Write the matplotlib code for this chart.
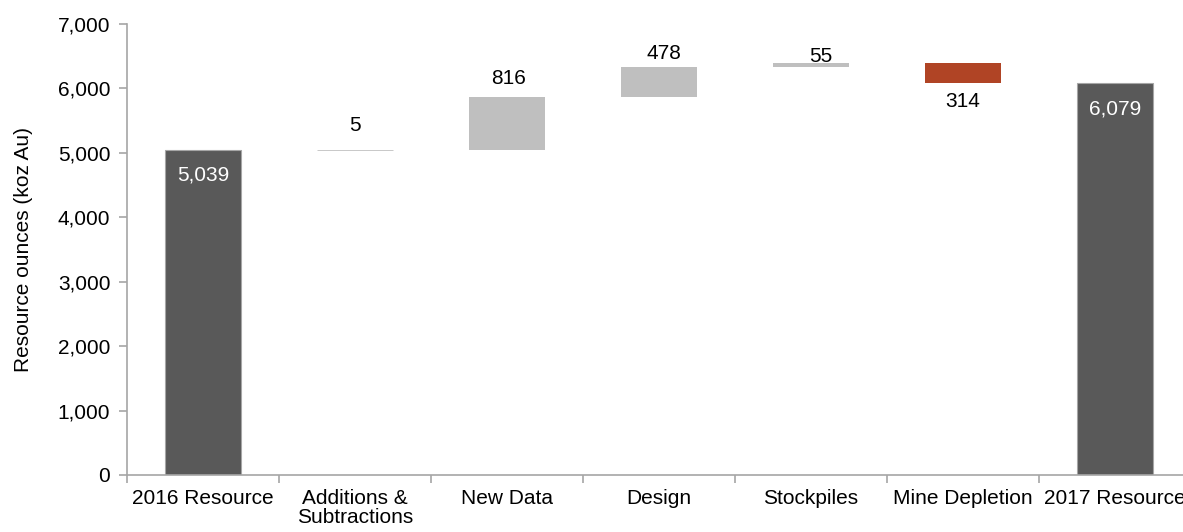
import numpy as np
import matplotlib.pyplot as plt

plt.rcParams['font.family'] = ['Liberation Sans', 'DejaVu Sans']

# datos del waterfall
categorias = ['2016 Resource', 'Additions &\nSubtractions', 'New Data', 'Design',
              'Stockpiles', 'Mine Depletion', '2017 Resource']
cambios = [5039, 5, 816, 478, 55, -314, 6079]
es_total = [True, False, False, False, False, False, True]

# desplazamiento de cada etiqueta en pixeles (x, y), como en el original
desfase_etiqueta = [(0, -25), (0, 25), (2, 19), (5, 13), (10, 7), (0, -18), (0, -26)]

c_total = '#595959'
c_sube = '#bfbfbf'
c_baja = '#b04425'

fig = plt.figure(figsize=(11.83, 5.32), dpi=100)
ax = fig.add_axes([127 / 1183, 57 / 532, 1064 / 1183, 451 / 532])

x = np.arange(len(categorias))
nivel = 0
for i, (v, tot) in enumerate(zip(cambios, es_total)):
    dx, dy = desfase_etiqueta[i]
    if tot:
        ax.bar(i, v, width=0.5, color=c_total, edgecolor='#a6a6a6', linewidth=0.8)
        ax.annotate(f'{v:,}', (i, v), xytext=(dx, dy), textcoords='offset pixels',
                    ha='center', va='center', color='white', fontsize=15)
        nivel = v
    else:
        base = nivel if v >= 0 else nivel + v
        col = c_sube if v >= 0 else c_baja
        ax.bar(i, abs(v), bottom=base, width=0.5, color=col, edgecolor=col,
               linewidth=0.6 if abs(v) < 20 else 0)
        if v >= 0:
            ax.annotate(f'{v:,}', (i, nivel + v), xytext=(dx, dy), textcoords='offset pixels',
                        ha='center', va='center', color='black', fontsize=15)
        else:
            ax.annotate(f'{abs(v):,}', (i, nivel + v), xytext=(dx, dy), textcoords='offset pixels',
                        ha='center', va='center', color='black', fontsize=15)
        nivel += v

ax.set_xlim(-0.5, 6.5)
ax.set_ylim(0, 7000)
ax.set_yticks(np.arange(0, 7001, 1000))
ax.set_yticklabels([f'{t:,}' for t in range(0, 7001, 1000)], fontsize=15)
ax.set_xticks(x)
ax.set_xticklabels(categorias, fontsize=15, linespacing=1.0)
ax.set_xticks(np.arange(-0.5, 7, 1), minor=True)
ax.tick_params(axis='x', which='major', length=0, pad=10)
ax.tick_params(axis='x', which='minor', length=6, color='#a6a6a6', width=1.2)
ax.tick_params(axis='y', length=6, color='#a6a6a6', width=1.2, pad=6)
ax.set_ylabel('Resource ounces (koz Au)', fontsize=15, labelpad=18)

for s in ['top', 'right']:
    ax.spines[s].set_visible(False)
for s in ['left', 'bottom']:
    ax.spines[s].set_color('#a6a6a6')
    ax.spines[s].set_linewidth(1.2)

fig.savefig('out.png', dpi=100)
